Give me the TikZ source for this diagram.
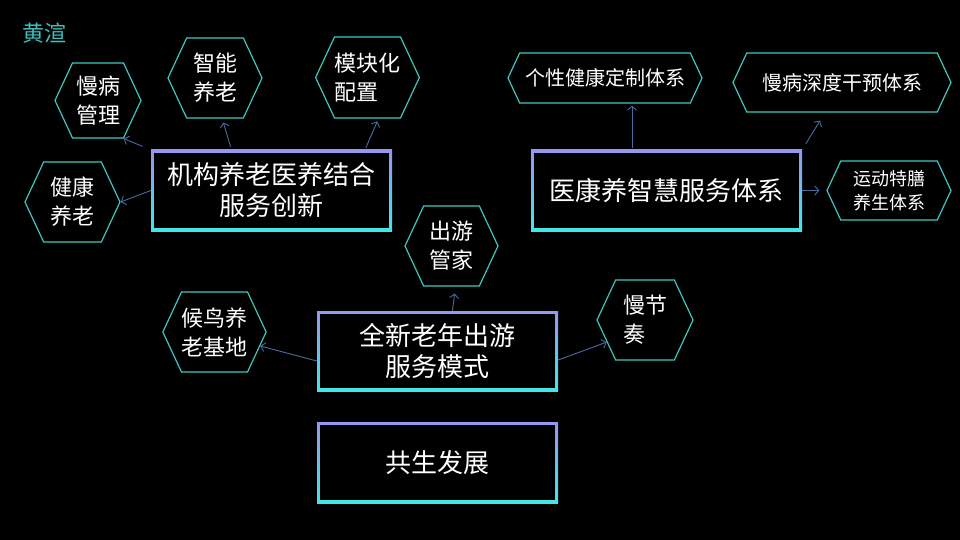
\documentclass[tikz,border=0pt]{standalone}
\usepackage{fontspec}
\setmainfont{Noto Sans CJK SC}
\usetikzlibrary{positioning,arrows.meta,shapes.symbols,calc}
\definecolor{framecyan}{RGB}{64,232,232}
\definecolor{framelilac}{RGB}{150,150,240}
\definecolor{hexcyan}{RGB}{60,200,192}
\definecolor{arrowblue}{RGB}{74,106,160}
\definecolor{titleteal}{RGB}{60,192,192}
\tikzset{
  frame-node/.style={rectangle, minimum width=241pt, minimum height=81pt,
    inner sep=0pt, text=white, align=center, font=\fontsize{26}{31}\selectfont,
    path picture={
      \shade[top color=framelilac, bottom color=framecyan]
        (path picture bounding box.south west) rectangle (path picture bounding box.north east);
      \fill[black] ([shift={(3pt,3pt)}]path picture bounding box.south west)
        rectangle ([shift={(-3pt,-3pt)}]path picture bounding box.north east);
    }},
  hex-node/.style={signal, signal to=west and east, signal pointer angle=130,
    draw=hexcyan, line width=1.2pt, inner sep=0pt, text=white, align=center,
    font=\fontsize{22}{29}\selectfont},
  flow-arrow/.style={-{Straight Barb[length=4pt,width=9pt]}, line width=0.9pt, draw=arrowblue},
  title-text/.style={font=\fontsize{22}{22}\selectfont, text=titleteal, inner sep=0pt}
}

\begin{document}
\begin{tikzpicture}[x=1pt,y=-1pt]
\fill[black] (0,0) rectangle (960,540);
\node[title-text, anchor=west] (title) at (22,33) {黄渲};

% main boxes
\node[frame-node] (inst) at (271.5,190.5) {机构养老医养结合\\服务创新};
\node[frame-node, minimum width=271pt] (med) at (666.5,190.5) {医康养智慧服务体系};
\node[frame-node, minimum height=80pt] (tour) at (437.5,351) {全新老年出游\\服务模式};
\node[frame-node] (cosym) at (437.5,462.5) {共生发展};

% hexagons
\node[hex-node, minimum width=86pt, minimum height=75pt] (chronic) at (98,100.5) {慢病\\管理};
\node[hex-node, minimum width=94pt, minimum height=80pt] (smart) at (215,78) {智能\\养老};
\node[hex-node, minimum width=103pt, minimum height=81pt, align=left] (module) at (367.5,77.5) {模块化\\配置};
\node[hex-node, minimum width=95pt, minimum height=80pt] (health) at (72.5,202) {健康\\养老};
\node[hex-node, minimum width=93pt, minimum height=80pt] (steward) at (451.5,246) {出游\\管家};
\node[hex-node, minimum width=95pt, minimum height=80pt] (migrate) at (214.5,332) {候鸟养\\老基地};
\node[hex-node, minimum width=96pt, minimum height=80pt, align=left] (slow) at (645,320) {慢节\\奏};
\node[hex-node, minimum width=194pt, minimum height=50pt, font=\fontsize{20}{24}\selectfont] (personal) at (605,78) {个性健康定制体系};
\node[hex-node, minimum width=218pt, minimum height=59pt, font=\fontsize{20}{24}\selectfont] (deep) at (842,82.5) {慢病深度干预体系};
\node[hex-node, minimum width=124pt, minimum height=59pt, font=\fontsize{18}{24}\selectfont] (sport) at (889,190.5) {运动特膳\\养生体系};

% arrows
\draw[flow-arrow, shorten <=9pt] (inst.north west) -- (chronic.-56);
\draw[flow-arrow] (inst.west) -- (health.east);
\draw[flow-arrow, shorten <=3pt, shorten >=4pt] ([xshift=-40pt]inst.north) -- (smart.-80);
\draw[flow-arrow, shorten <=2pt, shorten >=3pt] ([xshift=93.5pt]inst.north) -- (module.-75);
\draw[flow-arrow, shorten <=2pt, shorten >=2pt] ([xshift=-34.5pt]med.north) -- ([xshift=27pt]personal.south);
\draw[flow-arrow, shorten <=7pt] (med.north east) -- ([shift={(-22,8)}]deep.south);
\draw[flow-arrow, shorten >=7pt] (med.east) -- (sport.west);
\draw[flow-arrow, shorten >=7pt] ([xshift=15pt]tour.north) -- ([xshift=4pt]steward.south);
\draw[flow-arrow] ([yshift=-10pt]tour.west) -- (migrate.-17);
\draw[flow-arrow] ([yshift=-9pt]tour.east) -- (slow.210);
\end{tikzpicture}
\end{document}
